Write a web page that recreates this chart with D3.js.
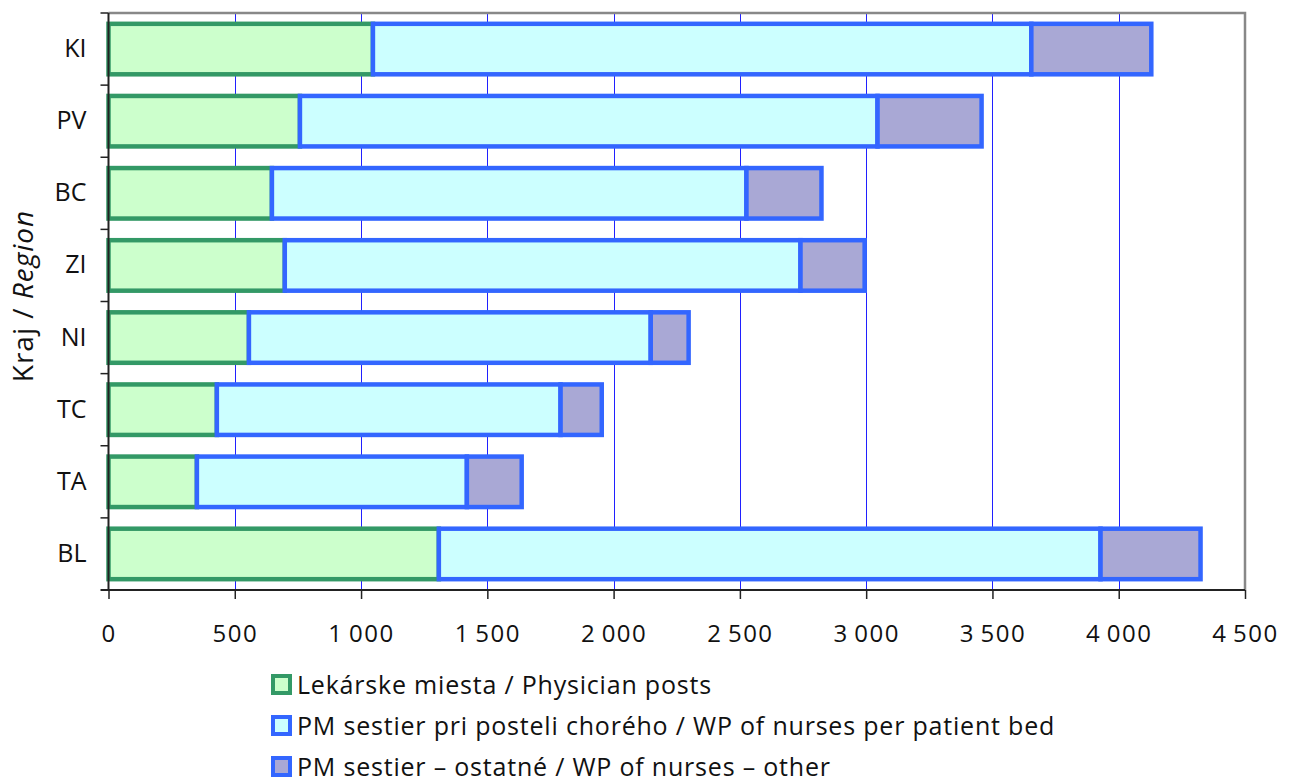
<!DOCTYPE html>
<html>
<head>
<meta charset="utf-8">
<script src="https://cdn.jsdelivr.net/npm/d3@7"></script>
<style>
body { margin: 0; background: #fff; }
text { font-family: "Open Sans", "Noto Sans", sans-serif; }
</style>
</head>
<body>
<svg width="1295" height="780"></svg>
<script>
var regions = ["KI", "PV", "BC", "ZI", "NI", "TC", "TA", "BL"];
var physicians = [1047, 758, 647, 698, 556, 429, 350, 1308];
var nursesBed = [2607, 2287, 1879, 2042, 1591, 1361, 1069, 2620];
var nursesOther = [475, 412, 297, 254, 150, 163, 217, 396];
var xTicks = [0, 500, 1000, 1500, 2000, 2500, 3000, 3500, 4000, 4500];
var seriesNames = [
	"Lekárske miesta / Physician posts",
	"PM sestier pri posteli chorého / WP of nurses per patient bed",
	"PM sestier – ostatné / WP of nurses – other"
];
var fills = ["#ccffcc", "#ccffff", "#a9a8d5"];
var strokes = ["#339966", "#3366ff", "#3366ff"];

var svg = d3.select("svg");
var plotLeft = 108.5, plotRight = 1245, plotTop = 13, plotBottom = 590;

var x = d3.scaleLinear().domain([0, 4500]).range([plotLeft, plotRight]);
var y = d3.scaleBand().domain(regions).range([plotTop, plotBottom]).paddingInner(0.3).paddingOuter(0.15);

// gridlines
svg.append("g").selectAll("line")
	.data(xTicks.slice(1, -1))
	.enter().append("line")
	.attr("x1", function (d) { return Math.round(x(d)) + 0.5; })
	.attr("x2", function (d) { return Math.round(x(d)) + 0.5; })
	.attr("y1", plotTop).attr("y2", plotBottom)
	.attr("stroke", "#2020ff")
	.attr("stroke-width", 1);

// frame top/right
svg.append("path")
	.attr("d", "M" + plotLeft + "," + plotTop + "L" + plotRight + "," + plotTop + "L" + plotRight + "," + plotBottom)
	.attr("fill", "none")
	.attr("stroke", "#888")
	.attr("stroke-width", 2.5);

// stacked bars
var stack = regions.map(function (r, i) {
	var vals = [physicians[i], nursesBed[i], nursesOther[i]];
	var acc = 0;
	return vals.map(function (v, k) {
		var seg = { region: r, k: k, x0: acc, x1: acc + v };
		acc += v;
		return seg;
	});
});
var segs = [].concat.apply([], stack);

svg.append("g").selectAll("rect")
	.data(segs)
	.enter().append("rect")
	.attr("x", function (d) { return x(d.x0); })
	.attr("width", function (d) { return x(d.x1) - x(d.x0); })
	.attr("y", function (d) { return y(d.region); })
	.attr("height", y.bandwidth())
	.attr("fill", function (d) { return fills[d.k]; })
	.attr("stroke", function (d) { return strokes[d.k]; })
	.attr("stroke-width", 4.5);

// x axis
var xAxis = svg.append("g")
	.attr("transform", "translate(0," + plotBottom + ")")
	.call(d3.axisBottom(x).tickValues(xTicks).tickSize(9).tickPadding(26)
		.tickFormat(function (d) { return d3.format(",")(d).replace(",", "\u2009"); }));
xAxis.select(".domain").attr("stroke", "#222").attr("stroke-width", 2).attr("d", "M" + (plotLeft - 8) + ",0H" + plotRight);
xAxis.selectAll(".tick line").attr("stroke", "#222").attr("stroke-width", 1.5);
xAxis.selectAll("text").attr("font-size", 24).attr("letter-spacing", 1.5).attr("fill", "#111");

// y axis
var yAxis = svg.append("g")
	.attr("transform", "translate(" + plotLeft + ",0)")
	.call(d3.axisLeft(y).tickSize(0).tickPadding(22));
yAxis.select(".domain").attr("stroke", "#222").attr("stroke-width", 2).attr("d", "M0," + plotTop + "V" + plotBottom);
yAxis.selectAll("text").attr("font-size", 25).attr("fill", "#111");

var step = (plotBottom - plotTop) / regions.length;
svg.append("g").selectAll("line")
	.data(d3.range(regions.length))
	.enter().append("line")
	.attr("x1", plotLeft - 8).attr("x2", plotLeft)
	.attr("y1", function (i) { return plotTop + i * step; })
	.attr("y2", function (i) { return plotTop + i * step; })
	.attr("stroke", "#222").attr("stroke-width", 1.5);

// y title
var yt = svg.append("text")
	.attr("transform", "translate(33,296) rotate(-90)")
	.attr("text-anchor", "middle")
	.style("font-size", "28px")
	.attr("letter-spacing", 1)
	.attr("fill", "#111");
yt.append("tspan").text("Kraj / ");
yt.append("tspan").attr("font-style", "italic").text("Region");

// legend
var lg = svg.append("g").selectAll("g")
	.data(seriesNames)
	.enter().append("g")
	.attr("transform", function (d, i) { return "translate(273," + (676 + i * 41) + ")"; });
lg.append("rect")
	.attr("width", 17).attr("height", 17)
	.attr("fill", function (d, i) { return fills[i]; })
	.attr("stroke", function (d, i) { return strokes[i]; })
	.attr("stroke-width", 4);
lg.append("text")
	.attr("x", 24).attr("y", 18)
	.attr("font-size", 25)
	.attr("letter-spacing", 0.8)
	.attr("fill", "#111")
	.text(function (d) { return d; });
</script>
</body>
</html>
